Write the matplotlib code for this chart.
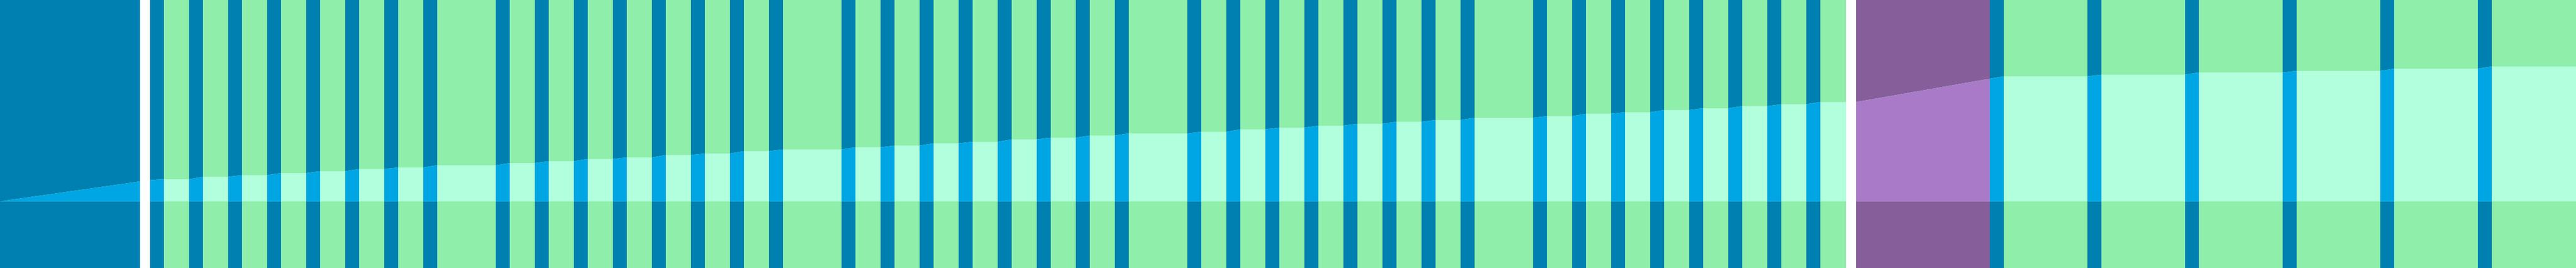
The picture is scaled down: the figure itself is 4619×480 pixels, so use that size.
import numpy as np
import matplotlib
matplotlib.use("Agg")
import matplotlib.pyplot as plt

# ---------------- data (timeline units) ----------------
# active periods (blue)
active_start = [0, 269, 339, 409, 479, 549, 619, 689, 759,
                889, 959, 1029, 1099, 1169, 1239, 1309, 1379,
                1509, 1579, 1649, 1719, 1789, 1859, 1929, 1999,
                2129, 2199, 2269, 2339, 2409, 2479, 2549, 2619,
                2749, 2819, 2889, 2959, 3029, 3099, 3169, 3239,
                3568, 3743, 3918, 4093, 4268, 4443]
active_end = [251, 294, 364, 434, 504, 574, 644, 714, 784,
              914, 984, 1054, 1124, 1194, 1264, 1334, 1404,
              1534, 1604, 1674, 1744, 1814, 1884, 1954, 2024,
              2154, 2224, 2294, 2364, 2434, 2504, 2574, 2644,
              2774, 2844, 2914, 2984, 3054, 3124, 3194, 3264,
              3593, 3768, 3943, 4118, 4293, 4468]
# special period (purple)
special_start = [3328]
special_end = [3568]
# breaks (white)
break_start = [251, 3310]
break_end = [269, 3328]

# cumulative level
level_t = [0, 251, 269, 294,
           339, 364, 409, 434, 479, 504, 549, 574, 619, 644, 689, 714, 759, 784,
           889, 914, 959, 984, 1029, 1054, 1099, 1124, 1169, 1194, 1239, 1264, 1309, 1334, 1379, 1404,
           1509, 1534, 1579, 1604, 1649, 1674, 1719, 1744, 1789, 1814, 1859, 1884, 1929, 1954, 1999, 2024,
           2129, 2154, 2199, 2224, 2269, 2294, 2339, 2364, 2409, 2434, 2479, 2504, 2549, 2574, 2619, 2644,
           2749, 2774, 2819, 2844, 2889, 2914, 2959, 2984, 3029, 3054, 3099, 3124, 3169, 3194, 3239, 3264,
           3328, 3568, 3593,
           3743, 3768, 3918, 3943, 4093, 4118, 4268, 4293, 4443, 4468, 4619]
level_v = [0, 35.7, 38.0, 39.7,
           39.7, 44.0, 44.0, 47.0, 47.0, 50.7, 50.7, 54.0, 54.0, 58.0, 58.0, 60.7, 60.7, 64.7,
           64.7, 68.7, 68.7, 72.0, 72.0, 76.0, 76.0, 78.7, 78.7, 83.0, 83.0, 85.7, 85.7, 90.0, 90.0, 93.0,
           93.0, 97.0, 97.0, 100.0, 100.0, 104.0, 104.0, 106.7, 106.7, 111.0, 111.0, 114.0, 114.0, 118.0, 118.0, 121.7,
           121.7, 124.7, 124.7, 129.0, 129.0, 132.0, 132.0, 135.7, 135.7, 139.0, 139.0, 142.7, 142.7, 145.7, 145.7, 149.7,
           149.7, 152.7, 152.7, 157.0, 157.0, 159.7, 159.7, 163.7, 163.7, 166.7, 166.7, 170.7, 170.7, 174.0, 174.0, 178.0,
           178.0, 219.7, 224.0,
           224.0, 227.0, 227.0, 231.0, 231.0, 233.7, 233.7, 237.7, 237.7, 241.7, 241.7]

# ---------------- style ----------------
idle_dark, idle_light = "#8EEEAA", "#B1FFDC"
active_dark, active_light = "#0080B1", "#00A6E4"
special_dark, special_light = "#855E9A", "#A97AC8"

fig = plt.figure(figsize=(46.19, 4.8), dpi=100)
ax = fig.add_axes([0, 0, 1, 1])
ax.set_xlim(0, 4619)
ax.set_ylim(-119.3, 360.7)
ax.axis("off")

# background (idle)
ax.axvspan(0, 4619, color=idle_dark, lw=0, zorder=1)
for s, e in zip(active_start, active_end):
    ax.axvspan(s, e, color=active_dark, lw=0, zorder=2)
for s, e in zip(special_start, special_end):
    ax.axvspan(s, e, color=special_dark, lw=0, zorder=2)

# area under the cumulative level
area = ax.fill_between(level_t, 0, level_v, color=idle_light, lw=0, zorder=3)
clip = area.get_paths()[0]
for s, e in zip(active_start, active_end):
    r = ax.axvspan(s, e, color=active_light, lw=0, zorder=4)
    r.set_clip_path(clip, ax.transData)
for s, e in zip(special_start, special_end):
    r = ax.axvspan(s, e, color=special_light, lw=0, zorder=4)
    r.set_clip_path(clip, ax.transData)

for s, e in zip(break_start, break_end):
    ax.axvspan(s, e, color="white", lw=0, zorder=6)

fig.savefig("out.png", dpi=100)
